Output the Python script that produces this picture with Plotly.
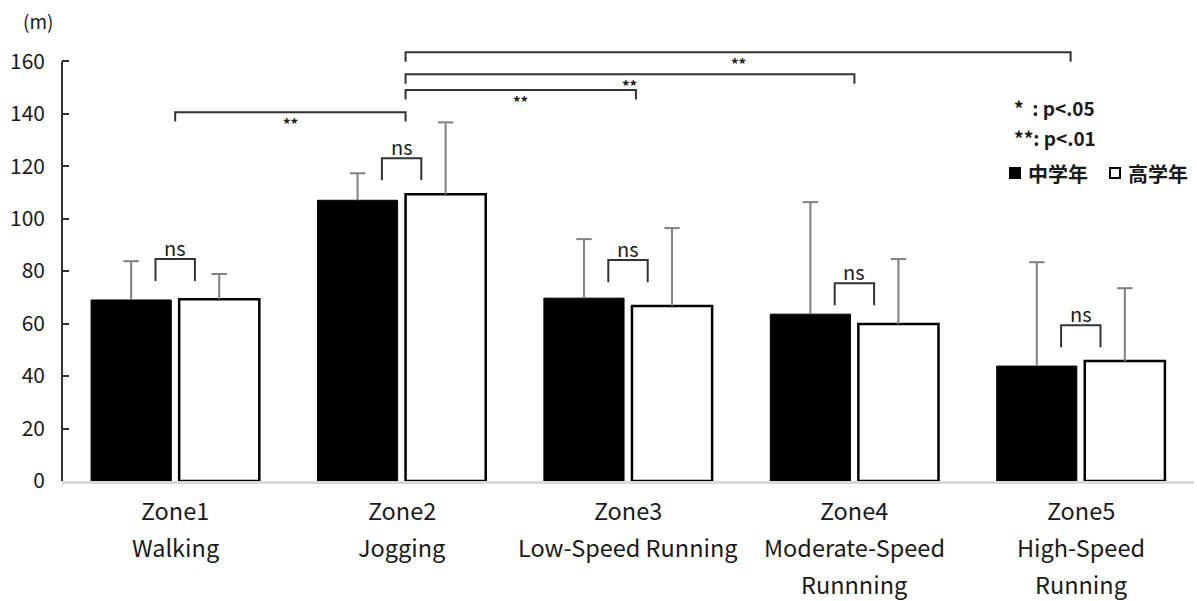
import plotly.graph_objects as go

# ---------------- data ----------------
categories = ["Zone1", "Zone2", "Zone3", "Zone4", "Zone5"]
label_line2 = ["Walking", "Jogging", "Low-Speed Running", "Moderate-Speed", "High-Speed"]
label_line3 = ["", "", "", "Runnning", "Running"]

middle_grade = [69.0, 107.0, 69.7, 63.6, 43.8]      # 中学年
middle_grade_sd = [14.8, 10.3, 22.5, 42.7, 39.6]
upper_grade = [69.3, 109.3, 66.7, 59.8, 45.7]       # 高学年
upper_grade_sd = [9.6, 27.4, 29.7, 24.8, 27.8]

y_ticks = [0, 20, 40, 60, 80, 100, 120, 140, 160]

ns_levels = [84.6, 123.0, 84.2, 75.4, 59.4]
sig_pairs = [(0, 1), (1, 2), (1, 3), (1, 4)]
sig_levels = [140.6, 149.0, 155.0, 163.4]
sig_labels = ["**", "**", "**", "**"]

note_lines = ["*  : p<.05", "**: p<.01"]
series_names = ["中学年", "高学年"]

# ---------------- styling ----------------
FONT = "Noto Sans CJK JP"
TXT = "#1a1a1a"
W, H = 1197, 601
ML, MR, MT, MB = 62, 3, 35, 120
PW, PH = W - ML - MR, H - MT - MB
YMAX = 170.0

x = list(range(len(categories)))
bw = 0.354
gap = 0.0175
centers_mid = [i - gap - bw / 2 for i in x]
centers_up = [i + gap + bw / 2 for i in x]

fig = go.Figure()
fig.add_trace(go.Bar(
    x=x, y=middle_grade, name=series_names[0],
    width=bw, offset=-bw - gap, showlegend=False,
    marker=dict(color="#000000", line=dict(color="#000000", width=1)),
    error_y=dict(type="data", array=middle_grade_sd, arrayminus=[0] * 5,
                 symmetric=False, color="#808080", thickness=2, width=0),
))
fig.add_trace(go.Bar(
    x=x, y=upper_grade, name=series_names[1],
    width=bw, offset=gap, showlegend=False,
    marker=dict(color="#ffffff", line=dict(color="#000000", width=2.5)),
    error_y=dict(type="data", array=upper_grade_sd, arrayminus=[0] * 5,
                 symmetric=False, color="#808080", thickness=2, width=0),
))
# error bar caps (top only)
fig.add_trace(go.Scatter(
    x=centers_mid + centers_up,
    y=[m + s for m, s in zip(middle_grade, middle_grade_sd)] +
      [m + s for m, s in zip(upper_grade, upper_grade_sd)],
    mode="markers", showlegend=False, hoverinfo="skip",
    marker=dict(symbol="line-ew", size=11, line=dict(color="#808080", width=2)),
))

# brackets
bx, by = [], []
ns_half = 0.087
ns_drop = 8.4
for i, lvl in enumerate(ns_levels):
    bx += [i - ns_half, i - ns_half, i + ns_half, i + ns_half, None]
    by += [lvl - ns_drop, lvl, lvl, lvl - ns_drop, None]

end_nudge = {0: 0.0, 1: 0.0175, 2: 0.035, 3: 0.0, 4: -0.045}
sig_drop = 3.6
annotations = []
for (a, b), lvl, lab in zip(sig_pairs, sig_levels, sig_labels):
    xa = a + end_nudge[a]
    xb = b + end_nudge[b]
    bx += [xa, xa, xb, xb, None]
    by += [lvl - sig_drop, lvl, lvl, lvl - sig_drop, None]
    annotations.append(dict(x=(xa + xb) / 2, y=lvl, xref="x", yref="y",
                            text=lab, showarrow=False, yanchor="middle", yshift=-11,
                            font=dict(family=FONT, size=15, color=TXT, weight="bold")))

fig.add_trace(go.Scatter(x=bx, y=by, mode="lines", line=dict(color="#333333", width=2),
                         showlegend=False, hoverinfo="skip"))

for i, lvl in enumerate(ns_levels):
    annotations.append(dict(x=i, y=lvl, xref="x", yref="y", text="ns", showarrow=False,
                            yanchor="middle", yshift=12,
                            font=dict(family=FONT, size=20, color=TXT)))

# x category labels (three lines each)
for i, (l1, l2, l3) in enumerate(zip(categories, label_line2, label_line3)):
    for txt, sh in ((l1, -28.5), (l2, -66), (l3, -103)):
        if txt:
            annotations.append(dict(x=i, y=0, xref="x", yref="paper", text=txt,
                                    showarrow=False, yanchor="middle", yshift=sh,
                                    font=dict(family=FONT, size=23.5, color=TXT)))

def px_to_paper_y(ypx):
    return (H - MB - ypx) / PH

def px_to_paper_x(xpx):
    return (xpx - ML) / PW

# unit label
annotations.append(dict(x=px_to_paper_x(38), y=px_to_paper_y(20),
                        xref="paper", yref="paper", text="(m)", showarrow=False,
                        xanchor="center", yanchor="middle",
                        font=dict(family=FONT, size=19, color=TXT)))

# significance notes
for txt, ypx in zip(note_lines, [107, 137]):
    annotations.append(dict(x=px_to_paper_x(1012), y=px_to_paper_y(ypx),
                            xref="paper", yref="paper", text=txt, showarrow=False,
                            xanchor="left", yanchor="middle",
                            font=dict(family=FONT, size=19, color=TXT, weight="bold")))

# legend (key squares + names)
shapes = [dict(type="line", xref="paper", yref="y", x0=0, x1=0, y0=0, y1=160,
               line=dict(color="#333333", width=2))]
key_left = [1010, 1110]
key_fill = ["#000000", "#ffffff"]
for name, kx, fill in zip(series_names, key_left, key_fill):
    shapes.append(dict(type="rect", xref="paper", yref="paper",
                       x0=px_to_paper_x(kx), x1=px_to_paper_x(kx + 10),
                       y0=px_to_paper_y(178), y1=px_to_paper_y(168),
                       fillcolor=fill, line=dict(color="#000000", width=2)))
    annotations.append(dict(x=px_to_paper_x(kx + 16), y=px_to_paper_y(173),
                            xref="paper", yref="paper", text=name, showarrow=False,
                            xanchor="left", yanchor="middle",
                            font=dict(family=FONT, size=20, color=TXT, weight="bold")))

fig.update_layout(
    width=W, height=H,
    margin=dict(l=ML, r=MR, t=MT, b=MB),
    paper_bgcolor="white", plot_bgcolor="white",
    barmode="overlay",
    font=dict(family=FONT, color=TXT),
    showlegend=False,
    xaxis=dict(range=[-0.5, 4.5], showticklabels=False, ticks="", showgrid=False,
               zeroline=False, showline=True, linecolor="#d9d9d9", linewidth=3,
               tickvals=x),
    yaxis=dict(range=[0, YMAX], tickvals=y_ticks, ticks="inside", ticklen=7,
               tickwidth=2, tickcolor="#333333", showgrid=False, zeroline=False,
               showline=False, ticklabelstandoff=16,
               tickfont=dict(family=FONT, size=21, color=TXT)),
    annotations=annotations,
    shapes=shapes,
)

fig.write_html("out.html", config={"displayModeBar": False},
               post_script="document.body.style.margin='0px';")
